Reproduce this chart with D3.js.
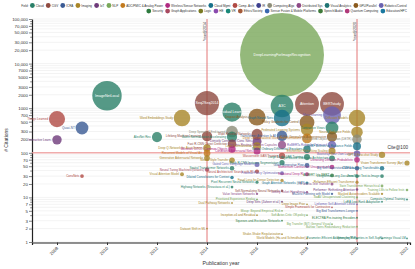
<!DOCTYPE html>
<html>
<head>
<meta charset="utf-8">
<script src="https://cdn.jsdelivr.net/npm/d3@7"></script>
<style>
body { margin: 0; background: #fff; }
text { font-family: "Liberation Sans", Arial, sans-serif; }
</style>
</head>
<body>
<div id="chart"></div>
<script>
// legend fields and their colours
var fields = ["Cloud", "CGV", "ICRA", "Imaging", "IoT", "NLP", "ADC/PMIC & Analog Power", "Wireless/Sensor Networks",
  "Cloud Mgmt", "Comp. Arch", "IR", "Computing Algo", "Distributed Sys", "Visual Analytics", "GPU/Parallel",
  "Robotics/Control", "Security", "Graph Applications", "Logic", "HE", "VR", "Ethics/Society",
  "Sensor Fusion & Mobile Platforms", "Speech/Audio", "Quantum Computing", "Education/HPC"];
var fieldColors = ["#2a7f68", "#8f4a40", "#3a5a94", "#a88628", "#6e3a7a", "#79a85a", "#c27a1e", "#b02a82",
  "#17708a", "#b04a44", "#3d3f8e", "#8c8c78", "#8e4a86", "#1e7474", "#8a5a1e", "#6a62b0",
  "#2e7a3e", "#a84a60", "#7a7a22", "#8a4aae", "#1a8878", "#a45a3a", "#3a68b0", "#3e7a3a", "#b03a7a", "#1a78a0"];

// papers: title, publication year, citations, field index
var titles = [
  "DeepLearningForImageRecognition", "ImageNetLocal", "Seq2Seq2014", "Things Learned", "Quasi-NT",
  "Interactive Learn.", "ConvNets", "AlexNet Rev.", "Word Embeddings Study", "Visual Attention Model",
  "Residual Learning", "Dropout Analysis", "A3C", "Graph Neural Nets", "Attention", "BERTstudy",
  "Meta Learning", "Policy Gradients for Control", "Federated Learning Systems", "Contrastive Views",
  "Diffusion Models", "Neural Radiance Fields", "GPT-3 Few-shot Study", "Vision Transformer Survey (Apr)",
  "Lifelong Machine Learning", "Deep Q-Network for Atari Games", "Recurrent Models of Visual Att.",
  "Generative Adversarial Networks", "Neural Turing Machines (Graves)", "Dataset Shift in ML",
  "Microsoft COCO: Common Objects", "Batch Normalization Accelerating", "Spatial Transformer Networks",
  "Highway Networks (Srivastava et al.)", "Dilated Convolutions for Context", "Neural Style Transfer",
  "Dual Pathway Networks", "Fast R-CNN Object Detection", "Deep Speech 2 End-to-end",
  "Wide Residual Networks", "Layer Normalization", "Conditional Adversarial Nets", "Gated Conv. Language Models",
  "Neural Architecture Search with RL", "Pixel Recurrent Neural Networks", "Value Iteration Networks",
  "Prioritized Experience Replay", "Inception-v4 and Residual", "Densely Connected Conv. Nets",
  "Transformer Attention Is All", "Dynamic Routing Between Capsules", "Wasserstein GAN Training",
  "Mask R-CNN Instance Segmentation", "Proximal Policy Optimization", "Focal Loss for Dense Detection",
  "Self-Normalizing Neural Networks", "Deep Sets (Zaheer et al.)", "Mixup: Beyond Empirical Risk",
  "Squeeze-and-Excitation Networks", "Shake-Shake Regularization",
  "Deep Contextualized Word Representations", "Neural Ordinary Differential Equations", "Large Scale GAN Training",
  "Glow: Generative Flow", "Relational Deep RL", "Graph Attention Networks (GAT)", "Lottery Ticket Hypothesis",
  "Deep Image Prior", "Soft Actor-Critic Off-policy", "World Models (Ha and Schmidhuber)",
  "XLNet Generalized Autoregressive", "RoBERTa Robustly Optimized", "EfficientNet Rethinking Scaling",
  "Style-Based Generator Architecture", "Momentum Contrast for Unsupervised", "ALBERT Lite BERT",
  "T5 Text-to-Text Transfer", "MuZero Planning with Model", "Simple Framework for Contrastive",
  "Big Transfer (BiT) General Visual",
  "End-to-End Object Detection (DETR)", "NeRF Scenes as Radiance Fields", "Bootstrap Your Own Latent",
  "Denoising Diffusion Probabilistic", "Big Self-Supervised Models", "Longformer Long-Document",
  "Reformer Efficient Transformer", "Performer: Rethinking Attention", "SwAV Unsupervised Clustering",
  "Linformer Self-Attention Linear", "Big Bird Transformers Longer", "ELECTRA Pre-training Encoders",
  "Barlow Twins Redundancy Reduction", "Parameter-Efficient Adapters for NLP",
  "CLIP Learning Transferable", "Zero-Shot Text-to-Image", "Swin Transformer Hierarchical",
  "Masked Autoencoders Scalable", "LoRA Low-Rank Adaptation", "Emerging Properties in Self-Sup.",
  "Training LMs to Follow Instr.", "Compute-Optimal Training", "Flamingo Visual LM"
];
var years = [
  2017, 2010, 2014, 2008, 2009, 2008, 2009, 2012, 2013, 2013,
  2015, 2016, 2017, 2017, 2018, 2019, 2019, 2018, 2018, 2019,
  2020, 2020, 2021, 2022,
  2014, 2014, 2014, 2014, 2014, 2014,
  2015, 2015, 2015, 2015, 2015, 2015, 2015, 2015, 2015,
  2016, 2016, 2016, 2016, 2016, 2016, 2016, 2016, 2016, 2016,
  2017, 2017, 2017, 2017, 2017, 2017, 2017, 2017, 2017, 2017, 2017,
  2018, 2018, 2018, 2018, 2018, 2018, 2018, 2018, 2018, 2018,
  2019, 2019, 2019, 2019, 2019, 2019, 2019, 2019, 2019, 2019,
  2020, 2020, 2020, 2020, 2020, 2020, 2020, 2020, 2020, 2020, 2020, 2020, 2020, 2020,
  2021, 2021, 2021, 2021, 2021, 2021,
  2022, 2022, 2022
];
var cites = [
  15500, 1900, 1300, 570, 360, 195, 30, 225, 600, 33,
  820, 630, 1120, 600, 1250, 1250, 700, 480, 330, 360,
  600, 290, 90, 59,
  237, 128, 98, 76, 42, 2,
  121, 230, 45, 17, 28, 68, 7.5, 160, 300,
  260, 140, 110, 55, 38, 22, 12, 9, 4, 180,
  240, 150, 85, 60, 35, 24, 14, 8, 5, 3, 1.5,
  210, 120, 80, 52, 33, 21, 13, 7, 4, 1.2,
  230, 150, 110, 75, 48, 31, 20, 12, 6, 2.5,
  200, 140, 95, 70, 45, 30, 22, 15, 10, 7, 5, 3.5, 2.2, 1.2,
  45, 30, 18, 12, 8, 1.2,
  14.7, 9, 1.2
];
var fieldOf = [
  5, 0, 1, 9, 2, 4, 9, 0, 3, 3,
  0, 14, 0, 8, 1, 1, 15, 14, 3, 0,
  3, 3, 3, 3,
  1, 3, 6, 3, 17, 3,
  7, 0, 0, 0, 8, 3, 3, 1, 11,
  1, 3, 7, 15, 9, 0, 12, 5, 3, 4,
  2, 12, 9, 0, 15, 3, 1, 4, 5, 16, 3,
  6, 13, 0, 2, 7, 8, 12, 3, 5, 3,
  14, 15, 3, 0, 7, 16, 12, 2, 9, 5,
  11, 8, 15, 7, 2, 0, 3, 4, 5, 15, 2, 16, 5, 0,
  8, 0, 5, 3, 0, 0,
  5, 0, 0
];

// axis ticks and reference marks
var xTicks = [2008, 2010, 2012, 2014, 2016, 2018, 2020, 2022];
var labeledDigits = [1, 2, 3, 5, 7];
var markYears = [2014, 2020];
var markCite = 100;

var width = 415, height = 269;
var svg = d3.select("#chart").append("svg").attr("width", width).attr("height", height);

var x = d3.scaleLinear().domain([2007, 2022.12]).range([32, 410]);
var y = d3.scaleLog().domain([1, 100000]).range([242, 19]);
var r = d3.scaleSqrt().domain([0, 15500]).range([0, 42]);

// all minor values for the log grid
var gridValues = [];
for (var d = 1; d < 100000; d *= 10) {
  for (var k = 1; k < 10; k++) gridValues.push(k * d);
}
gridValues.push(100000);

svg.append("g").selectAll("line").data(gridValues).enter().append("line")
  .attr("x1", 32).attr("x2", 410).attr("y1", d => y(d)).attr("y2", d => y(d))
  .attr("stroke", "#ebebeb").attr("stroke-width", 0.6);

function firstDigit(v) { return +String(v)[0]; }
var fmtBig = d3.format(",");

var yAxis = svg.append("g").attr("transform", "translate(32,0)")
  .call(d3.axisLeft(y).tickValues(gridValues).tickSizeOuter(0)
    .tickFormat(v => labeledDigits.indexOf(firstDigit(v)) >= 0 ? (v >= 10000 ? fmtBig(v) : String(v)) : ""));
yAxis.select(".domain").attr("stroke", "#222").attr("stroke-width", 1.2);
yAxis.selectAll(".tick line").attr("stroke", "#333").attr("stroke-width", 0.6)
  .attr("x2", v => labeledDigits.indexOf(firstDigit(v)) >= 0 ? -3 : -1.8);
yAxis.selectAll(".tick text").attr("x", -4).style("font-size", "4.4px").attr("fill", "#333");

var xAxis = svg.append("g").attr("transform", "translate(0,242.5)")
  .call(d3.axisBottom(x).tickValues(xTicks).tickFormat(d3.format("d")).tickSizeOuter(0).tickSize(2.5));
xAxis.select(".domain").attr("stroke", "#222").attr("stroke-width", 1.2);
xAxis.selectAll(".tick line").attr("stroke", "#333");
xAxis.selectAll(".tick text").style("font-size", "4.4px").attr("fill", "#333")
  .attr("text-anchor", "end").attr("dy", 0).attr("y", 0)
  .attr("transform", "translate(1,6) rotate(-45)");

// reference lines
svg.append("line").attr("x1", 32).attr("x2", 410).attr("y1", y(markCite)).attr("y2", y(markCite))
  .attr("stroke", "#ef9a9a").attr("stroke-width", 1.4).attr("opacity", 0.8);
svg.selectAll(".yearMark").data(markYears).enter().append("line")
  .attr("x1", d => x(d)).attr("x2", d => x(d)).attr("y1", 19).attr("y2", 242)
  .attr("stroke", "#e06666").attr("stroke-width", 0.9);
svg.selectAll(".yearLabel").data(markYears).enter().append("text")
  .attr("transform", d => "translate(" + (x(d) - 1.5) + ",22) rotate(-90)")
  .attr("text-anchor", "end").style("font-size", "3.6px").attr("fill", "#333")
  .text(d => "Year@" + d);
svg.append("text").attr("x", 408).attr("y", y(markCite) - 4).attr("text-anchor", "end")
  .style("font-size", "4.6px").attr("fill", "#333").text("Cite@" + markCite);

// bubbles, biggest first
var papers = titles.map((t, i) => ({title: t, year: years[i], cites: cites[i], field: fieldOf[i]}));
papers.sort((a, b) => b.cites - a.cites);

svg.append("g").selectAll("circle").data(papers).enter().append("circle")
  .attr("cx", d => x(d.year)).attr("cy", d => y(d.cites)).attr("r", d => Math.max(r(d.cites), 0.9))
  .attr("fill", d => fieldColors[d.field]).attr("fill-opacity", 0.8);

svg.append("g").selectAll("text").data(papers).enter().append("text")
  .attr("x", d => r(d.cites) >= 9 ? x(d.year) : x(d.year) - r(d.cites) - 0.8)
  .attr("y", d => y(d.cites) + 1)
  .attr("text-anchor", d => r(d.cites) >= 9 ? "middle" : "end")
  .style("font-size", d => r(d.cites) >= 9 ? "3.6px" : "3px")
  .attr("fill", d => r(d.cites) >= 9 ? "#fff" : fieldColors[d.field])
  .text(d => d.title);

// axis titles
svg.append("text").attr("transform", "translate(8,140) rotate(-90)").attr("text-anchor", "middle")
  .style("font-size", "5px").attr("fill", "#333").text("# Citations");
svg.append("text").attr("x", 221).attr("y", 265).attr("text-anchor", "middle")
  .style("font-size", "5.2px").attr("fill", "#333").text("Publication year");

// legend with wrapping rows, right aligned
var legend = svg.append("g");
var items = fields.map(function(f, i) {
  var g = legend.append("g");
  g.append("circle").attr("cx", 2.4).attr("cy", 0).attr("r", 2.4).attr("fill", fieldColors[i]);
  var t = g.append("text").attr("x", 5.8).attr("y", 1.1).style("font-size", "3px").attr("fill", "#333").text(f);
  return {g: g, w: 5.8 + t.node().getComputedTextLength() + 2.2};
});
var rows = [[]], rowW = [0], maxW = 388;
items.forEach(function(it) {
  if (rowW[rowW.length - 1] + it.w > maxW) { rows.push([]); rowW.push(0); }
  rows[rows.length - 1].push(it);
  rowW[rowW.length - 1] += it.w;
});
rows.forEach(function(row, ri) {
  var xPos = 409 - rowW[ri], yPos = 5.5 + ri * 5.6;
  if (ri === 0) {
    legend.append("text").attr("x", xPos - 1.5).attr("y", yPos + 1.1).attr("text-anchor", "end")
      .style("font-size", "3px").attr("fill", "#333").text("Field:");
  }
  row.forEach(function(it) {
    it.g.attr("transform", "translate(" + xPos + "," + yPos + ")");
    xPos += it.w;
  });
});
</script>
</body>
</html>
